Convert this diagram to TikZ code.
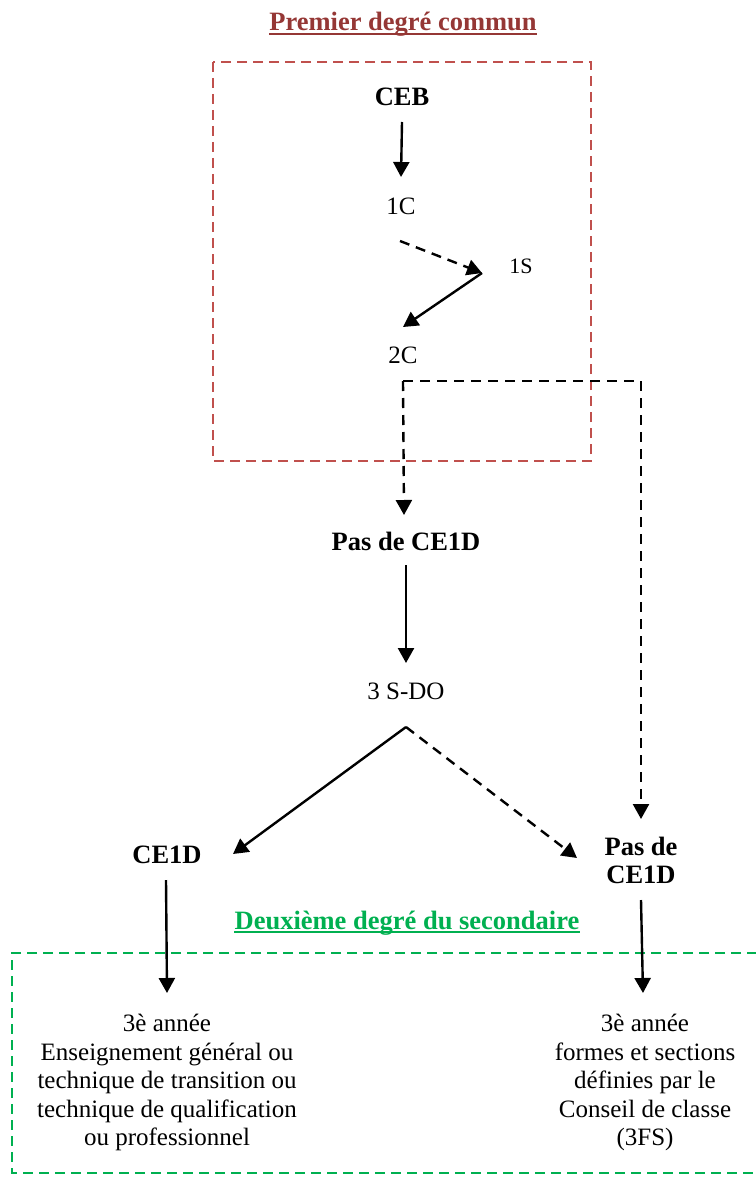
\documentclass[tikz,border=0pt]{standalone}
\usepackage{fontspec}
\setmainfont{Liberation Serif}
\usetikzlibrary{arrows.meta,calc}
\definecolor{boxred}{HTML}{C0504D}
\definecolor{titlered}{HTML}{953735}
\definecolor{boxgreen}{HTML}{00B050}
\begin{document}
\begin{tikzpicture}[x=1pt,y=-1pt,
  lbl/.style={font=\fontsize{25}{28.5}\selectfont, inner sep=0pt},
  slbl/.style={font=\fontsize{22}{26}\selectfont, inner sep=0pt},
  blbl/.style={font=\fontsize{26.5}{28}\selectfont\bfseries, inner sep=0pt, align=center},
  para/.style={font=\fontsize{25}{28.5}\selectfont, inner sep=0pt, align=center, anchor=north},
  heading/.style={font=\fontsize{26.5}{30}\selectfont\bfseries, inner sep=0pt, anchor=base},
  arr/.style={line width=2.4pt, -{Triangle[width=16pt,length=15pt]}},
  darr/.style={arr, dash pattern=on 10pt off 7pt},
  dline/.style={line width=2.4pt, dash pattern=on 10pt off 7pt},
  frame/.style={line width=2.6pt, dash pattern=on 10pt off 6pt}]
\useasboundingbox (0,0) rectangle (755,1177);

% group frames
\draw[frame, boxred] (213,62) rectangle (591,461);
\draw[frame, boxgreen] (757,953) -- (12,953) -- (12,1173) -- (757,1173);

% headings
\node[heading, text=titlered] (h1) at (403,31) {Premier degré commun};
\draw[titlered, line width=2pt] ([yshift=-3pt]h1.base west) -- ([yshift=-3pt]h1.base east);
\node[heading, text=boxgreen] (h2) at (407,929) {Deuxième degré du secondaire};
\draw[boxgreen, line width=2pt] ([yshift=-3pt]h2.base west) -- ([yshift=-3pt]h2.base east);

% steps
\node[blbl] (ceb) at (402,97) {CEB};
\node[lbl] (c1) at (401,206) {1C};
\node[slbl] (s1) at (521,266) {1S};
\node[lbl] (c2) at (403,355) {2C};
\node[blbl] (pas1) at (406,541) {Pas de CE1D};
\node[lbl] (sdo) at (406,691) {3 S-DO};
\node[blbl] (ce1d) at (167,855) {CE1D};
\node[blbl] (pas2) at (641,860) {Pas de\\CE1D};
\node[para] (resL) at (167,1014) {3è année\\Enseignement général ou\\technique de transition ou\\technique de qualification\\ou professionnel};
\node[para] (resR) at (645,1014) {3è année\\formes et sections\\définies par le\\Conseil de classe\\(3FS)};

% connectors
\draw[arr] ($(ceb)+(0,25)$) -- ($(c1)+(0,-29)$);
\draw[darr] ($(c1)+(-1,35)$) -- ($(s1)+(-39,7)$);
\draw[arr] ($(s1)+(-39,7)$) -- ($(c2)+(0,-28)$);
\coordinate (split) at ($(c2)+(0,26)$);
\draw[darr] (split) -- ($(pas1)+(-2,-26)$);
\draw[dline] (split) -- (split -| pas2);
\draw[darr] (split -| pas2) -- ($(pas2)+(0,-41)$);
\draw[arr] ($(pas1)+(0,24)$) -- ($(sdo)+(0,-28)$);
\coordinate (fork) at ($(sdo)+(0,36)$);
\draw[arr] (fork) -- ($(ce1d)+(66,-1)$);
\draw[darr] (fork) -- ($(pas2)+(-64,-2)$);
\draw[arr] ($(ce1d)+(-1,25)$) -- ([yshift=21pt]resL.north);
\draw[arr] ($(pas2)+(0,40)$) -- ([xshift=-2pt,yshift=21pt]resR.north);
\end{tikzpicture}
\end{document}
